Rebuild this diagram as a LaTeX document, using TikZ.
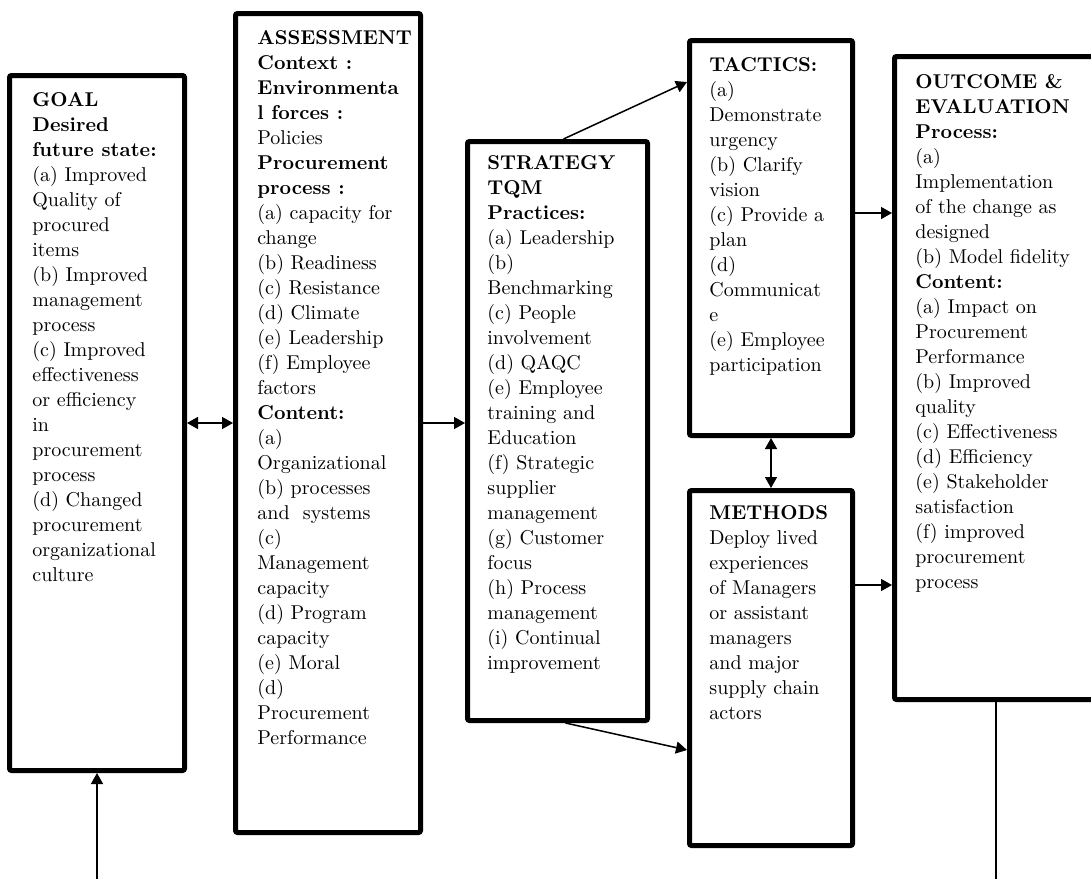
\documentclass[tikz,border=0pt]{standalone}
\usepackage{tikz}
\usetikzlibrary{arrows.meta,positioning}

\begin{document}
\begin{tikzpicture}[
    x=0.5pt, y=-0.5pt,
    >={Triangle[length=5.5pt,width=6pt]},
    stage/.style={draw, line width=2.5pt, rounded corners=1pt, inner sep=0pt},
    txt/.style={anchor=north west, inner sep=0pt, align=left, font=\fontsize{10}{12.5}\selectfont},
    link/.style={line width=0.75pt}
]
\useasboundingbox (0,0) rectangle (1091,878);

% Boxes
\node[stage, minimum width=87.5pt, minimum height=347.5pt] (goal) at (97,423) {};
\node[stage, minimum width=92.5pt, minimum height=409.5pt] (assessment) at (328,423) {};
\node[stage, minimum width=90pt, minimum height=289.5pt] (strategy) at (557.5,431) {};
\node[stage, minimum width=81.5pt, minimum height=197.5pt] (tactics) at (771,238) {};
\node[stage, minimum width=81.5pt, minimum height=177.5pt] (methods) at (771,668) {};
\node[stage, minimum width=101.5pt, minimum height=321.5pt] (outcome) at (996,378) {};

% Box texts
\node[txt] (goaltext) at ([xshift=12.5pt,yshift=-9.5pt]goal.north west) {\textbf{GOAL}\\ \textbf{Desired}\\ \textbf{future state:}\\ (a) Improved\\ Quality of\\ procured\\ items\\ (b) Improved\\ management\\ process\\ (c) Improved\\ effectiveness\\ or efficiency\\ in\\ procurement\\ process\\ (d) Changed\\ procurement\\ organizational\\ culture};
\node[txt] (assesstext) at ([xshift=12pt,yshift=-9.5pt]assessment.north west) {\textbf{ASSESSMENT}\\ \textbf{Context :}\\ \textbf{Environmenta}\\ \textbf{l forces :}\\ Policies\\ \textbf{Procurement}\\ \textbf{process :}\\ (a) capacity for\\ change\\ (b) Readiness\\ (c) Resistance\\ (d) Climate\\ (e) Leadership\\ (f) Employee\\ factors\\ \textbf{Content:}\\ (a)\\ Organizational\\ (b) processes\\ and\ \ systems\\ (c)\\ Management\\ capacity\\ (d) Program\\ capacity\\ (e) Moral\\ (d)\\ Procurement\\ Performance};
\node[txt] (strattext) at ([xshift=11pt,yshift=-8.25pt]strategy.north west) {\textbf{STRATEGY}\\ \textbf{TQM}\\ \textbf{Practices:}\\ (a) Leadership\\ (b)\\ Benchmarking\\ (c) People\\ involvement\\ (d) QAQC\\ (e) Employee\\ training and\\ Education\\ (f) Strategic\\ supplier\\ management\\ (g) Customer\\ focus\\ (h) Process\\ management\\ (i) Continual\\ improvement};
\node[txt] (tactext) at ([xshift=11pt,yshift=-9.5pt]tactics.north west) {\textbf{TACTICS:}\\ (a)\\ Demonstrate\\ urgency\\ (b) Clarify\\ vision\\ (c) Provide a\\ plan\\ (d)\\ Communicat\\ e\\ (e) Employee\\ participation};
\node[txt] (methtext) at ([xshift=11pt,yshift=-8.5pt]methods.north west) {\textbf{METHODS}\\ Deploy lived\\ experiences\\ of Managers\\ or assistant\\ managers\\ and major\\ supply chain\\ actors};
\node[txt] (outtext) at ([xshift=11.5pt,yshift=-10pt]outcome.north west) {\textbf{OUTCOME \&}\\ \textbf{EVALUATION}\\ \textbf{Process:}\\ (a)\\ Implementation\\ of the change as\\ designed\\ (b) Model fidelity\\ \textbf{Content:}\\ (a) Impact on\\ Procurement\\ Performance\\ (b) Improved\\ quality\\ (c) Effectiveness\\ (d) Efficiency\\ (e) Stakeholder\\ satisfaction\\ (f) improved\\ procurement\\ process};

% Arrow ends
\coordinate (tacout) at ([yshift=12.5pt]tactics.east);
\coordinate (methout) at ([yshift=41.5pt]methods.east);
\coordinate (feedback) at (goal.south |- 0,882);

% Arrows
\draw[link, <->] (goal.east) -- (assessment.west);
\draw[link, ->] (assessment.east) -- (strategy.west |- assessment.east);
\draw[link, ->] ([xshift=3pt]strategy.north) -- ([yshift=-22pt]tactics.north west);
\draw[link, ->] ([xshift=4pt]strategy.south) -- ([yshift=-41pt]methods.west);
\draw[link, <->] (tactics.south) -- (methods.north);
\draw[link, ->] (tacout) -- (tacout -| outcome.west);
\draw[link, ->] (methout) -- (methout -| outcome.west);
\draw[link, ->] (outcome.south) |- (feedback) -- (goal.south);

\end{tikzpicture}
\end{document}
